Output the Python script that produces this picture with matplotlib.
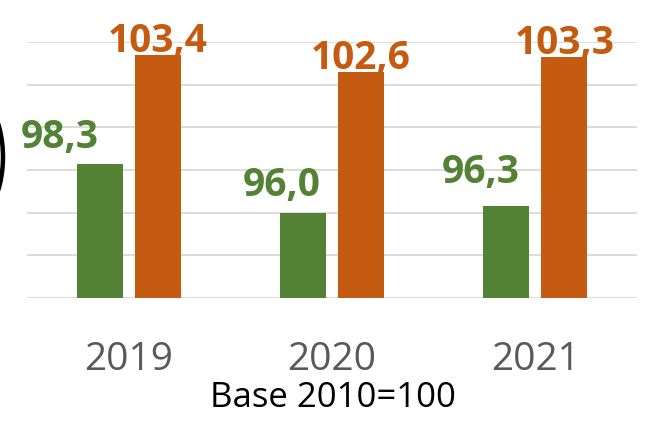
import numpy as np
import matplotlib
matplotlib.use("Agg")
import matplotlib.pyplot as plt
from matplotlib.patches import Ellipse

anos = ["2019", "2020", "2021"]
serie_verde = [98.3, 96.0, 96.3]
serie_laranja = [103.4, 102.6, 103.3]
rotulos_verde = ["98,3", "96,0", "96,3"]
rotulos_laranja = ["103,4", "102,6", "103,3"]

# deslocamento dos rotulos verdes (pixels), como no original
desloc_verde = [(-40, 16), (-21, 17), (-26, 23)]

plt.rcParams['font.family'] = ['Open Sans', 'DejaVu Sans']

fig = plt.figure(figsize=(6.52, 4.22), dpi=100)
ax = fig.add_axes([27/652, 1 - 297.7/422, 610/652, 255.4/422])

x = np.arange(len(anos))
largura = 0.227
desloc = 0.143

barras_v = ax.bar(x - desloc, serie_verde, largura, color='#548235', zorder=3)
barras_l = ax.bar(x + desloc, serie_laranja, largura, color='#C55A11', zorder=3)

for i, b in enumerate(barras_v):
    ax.annotate(rotulos_verde[i], (b.get_x() + b.get_width()/2, b.get_height()),
                xytext=desloc_verde[i], textcoords='offset pixels',
                ha='center', va='baseline', fontsize=28, fontweight='bold',
                color='#548235')
for i, b in enumerate(barras_l):
    ax.annotate(rotulos_laranja[i], (b.get_x() + b.get_width()/2, b.get_height()),
                xytext=(0, 3), textcoords='offset pixels',
                ha='center', va='baseline', fontsize=28, fontweight='bold',
                color='#C55A11')

ax.set_ylim(92, 104)
ax.set_xlim(-0.5, 2.5)
ax.set_yticks(np.arange(92, 105, 2))
ax.set_yticklabels([])
ax.yaxis.grid(True, color='#D9D9D9', linewidth=1.3, zorder=0)
ax.tick_params(axis='both', length=0)
ax.set_xticks(x)
ax.set_xticklabels(anos, fontsize=28, color='#595959')
ax.tick_params(axis='x', pad=31.5)
for s in ax.spines.values():
    s.set_visible(False)

fig.text(333/652, 15/422, "Base 2010=100", ha='center', va='baseline',
         fontsize=25, color='black')

# arco preto cortado na margem esquerda
fig.add_artist(Ellipse((-37/652, 1 - 157/422), 80/652, 140/422,
                       transform=fig.transFigure, fill=False,
                       edgecolor='black', linewidth=3.2))

fig.savefig("out.png", dpi=100)
